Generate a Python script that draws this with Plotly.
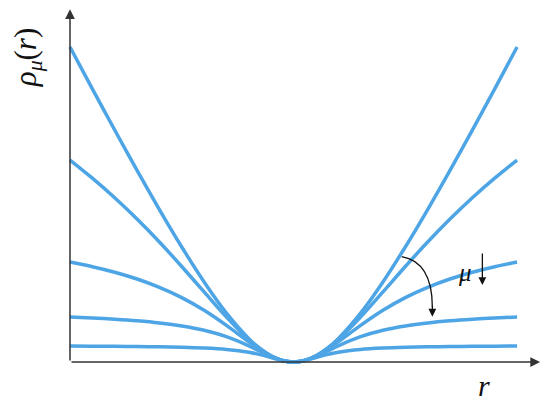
import plotly.graph_objects as go

# radial coordinate (data units)
r = [-10, -9, -8, -7, -6, -5, -4, -3, -2, -1.5, -1, -0.5, 0,
     0.5, 1, 1.5, 2, 3, 4, 5, 6, 7, 8, 9, 10]

rho_1 = [10.0, 8.673, 7.365, 6.085, 4.841, 3.652, 2.542, 1.551, 0.741, 0.429, 0.195, 0.050, 0,
         0.050, 0.195, 0.429, 0.741, 1.551, 2.542, 3.652, 4.841, 6.085, 7.365, 8.673, 10.0]
rho_2 = [6.413, 5.838, 5.216, 4.539, 3.810, 3.032, 2.225, 1.427, 0.711, 0.419, 0.193, 0.049, 0,
         0.049, 0.193, 0.419, 0.711, 1.427, 2.225, 3.032, 3.810, 4.539, 5.216, 5.838, 6.413]
rho_3 = [3.175, 3.027, 2.851, 2.636, 2.372, 2.046, 1.643, 1.163, 0.639, 0.393, 0.187, 0.049, 0,
         0.049, 0.187, 0.393, 0.639, 1.163, 1.643, 2.046, 2.372, 2.636, 2.851, 3.027, 3.175]
rho_4 = [1.429, 1.398, 1.359, 1.308, 1.240, 1.144, 1.007, 0.803, 0.513, 0.341, 0.175, 0.048, 0,
         0.048, 0.175, 0.341, 0.513, 0.803, 1.007, 1.144, 1.240, 1.308, 1.359, 1.398, 1.429]
rho_5 = [0.508, 0.504, 0.499, 0.492, 0.482, 0.467, 0.442, 0.398, 0.311, 0.238, 0.143, 0.045, 0,
         0.045, 0.143, 0.238, 0.311, 0.398, 0.442, 0.467, 0.482, 0.492, 0.499, 0.504, 0.508]

series = [rho_1, rho_2, rho_3, rho_4, rho_5]
LINE = "#4ea5e6"
AXC = "#333333"
SERIF = "Times New Roman"

fig = go.Figure()
for s in series:
    fig.add_trace(go.Scatter(x=r, y=s, mode="lines",
                             line=dict(color=LINE, width=3.5, shape="spline", smoothing=0.8),
                             hoverinfo="skip", showlegend=False))

X0, X1 = -10.447, 11.16
Y0, Y1 = -0.317, 11.239

annotations = [
    # x axis with arrow
    dict(x=11.03, y=0, ax=-10, ay=0, xref="x", yref="y", axref="x", ayref="y",
         text="", showarrow=True, arrowhead=2, arrowsize=1.3, arrowwidth=1.5,
         arrowcolor=AXC, standoff=0, startstandoff=0),
    # y axis with arrow
    dict(x=-10, y=11.2, ax=-10, ay=0, xref="x", yref="y", axref="x", ayref="y",
         text="", showarrow=True, arrowhead=2, arrowsize=1.3, arrowwidth=1.5,
         arrowcolor=AXC, standoff=0, startstandoff=0),
    # y label
    dict(x=-0.066, y=0.865, xref="paper", yref="paper", xanchor="center", yanchor="middle",
         text="<i>ρ</i><sub><i>μ</i></sub>(<i>r</i>)", showarrow=False, textangle=-90,
         font=dict(family=SERIF, size=31, color="#111111")),
    # x label
    dict(x=8.52, y=-0.038, xref="x", yref="paper", xanchor="center", yanchor="middle",
         text="<i>r</i>", showarrow=False,
         font=dict(family=SERIF, size=30, color="#111111")),
    # mu label
    dict(x=(465 - 293.5) / 22.35, y=(362 - 272) / 31.5, xref="x", yref="y", text="<i>μ</i>",
         showarrow=False, font=dict(family=SERIF, size=25, color="#111111")),
    # small down arrow beside mu
    dict(x=(482.3 - 293.5) / 22.35, y=(362 - 285) / 31.5, xref="x", yref="y", ax=0, ay=-33,
         text="", showarrow=True, arrowhead=2, arrowsize=1.2, arrowwidth=1.3,
         arrowcolor="#111111", standoff=0),
    # curved arrow head
    dict(x=6.21, y=1.44, xref="x", yref="y", ax=0, ay=-12, text="", showarrow=True,
         arrowhead=2, arrowsize=1.2, arrowwidth=1.3, arrowcolor="#111111", standoff=0),
]

fig.add_shape(type="path", xref="x", yref="y",
              path="M 4.84,3.343 Q 6.2,3.175 6.21,1.75",
              line=dict(color="#111111", width=1.3))

fig.update_layout(
    width=550, height=404,
    margin=dict(l=52, r=15, t=0, b=40, pad=0),
    paper_bgcolor="white", plot_bgcolor="white",
    font=dict(family=SERIF),
    xaxis=dict(range=[X0, X1], visible=False, fixedrange=True),
    yaxis=dict(range=[Y0, Y1], visible=False, fixedrange=True),
    annotations=annotations,
    showlegend=False,
)

fig.write_html("out.html")
